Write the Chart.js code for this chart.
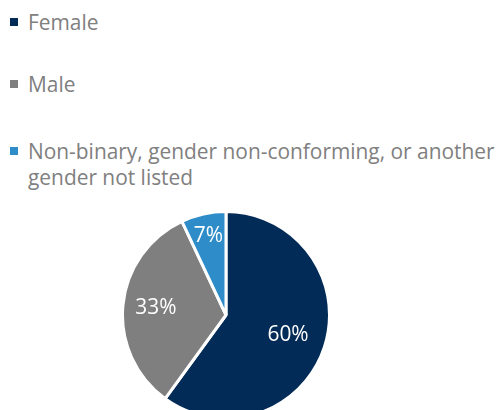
<!DOCTYPE html>
<html>
<head>
<meta charset="utf-8">
<script src="https://cdn.jsdelivr.net/npm/chart.js@4/dist/chart.umd.min.js"></script>
<style>
  html, body { margin: 0; padding: 0; background: #fff; }
  body { width: 497px; height: 410px; overflow: hidden; position: relative; font-family: "Open Sans", sans-serif; }
  .legend { position: absolute; left: 10px; top: 0; width: 487px; color: #808080; font-size: 20.9px; line-height: 26px; }
  .legend .item { position: absolute; left: 0; padding-left: 18px; width: 469px; white-space: normal; }
  .legend .sw { position: absolute; left: 0; top: 9px; width: 8px; height: 8px; }
  .pie-box { position: absolute; left: 120px; top: 209px; width: 212px; height: 212px; }
</style>
</head>
<body>
<div class="legend" id="legend"></div>
<div class="pie-box"><canvas id="genderPie"></canvas></div>
<script>
const categories = ['Female', 'Male', 'Non-binary, gender non-conforming, or another gender not listed'];
const shares = [60, 33, 7];
const colors = ['#022b57', '#7f7f7f', '#2e8dc8'];

// legend rows (top offsets in px)
const legendTops = [9, 71, 138];
const legend = document.getElementById('legend');
categories.forEach((name, i) => {
    const row = document.createElement('div');
    row.className = 'item';
    row.style.top = legendTops[i] + 'px';
    row.innerHTML = `<span class="sw" style="background:${colors[i]}"></span>${name}`;
    legend.appendChild(row);
});

// label radius as fraction of the outer radius, per slice
const labelRadius = [0.63, 0.68, 0.78];

const pieLabels = {
    id: 'pieLabels',
    afterDatasetsDraw(chart) {
        const { ctx } = chart;
        const meta = chart.getDatasetMeta(0);
        ctx.save();
        ctx.fillStyle = '#ffffff';
        ctx.font = '20.9px "Open Sans", sans-serif';
        ctx.textAlign = 'center';
        ctx.textBaseline = 'middle';
        meta.data.forEach((arc, i) => {
            const mid = (arc.startAngle + arc.endAngle) / 2;
            const r = arc.outerRadius * labelRadius[i];
            ctx.fillText(shares[i] + '%', arc.x + Math.cos(mid) * r, arc.y + Math.sin(mid) * r);
        });
        ctx.restore();
    }
};

new Chart(document.getElementById('genderPie'), {
    type: 'pie',
    data: {
        labels: categories,
        datasets: [{
            data: shares,
            backgroundColor: colors,
            borderColor: '#ffffff',
            borderWidth: 3,
            hoverOffset: 0
        }]
    },
    options: {
        responsive: true,
        maintainAspectRatio: false,
        animation: false,
        layout: { padding: 1 },
        plugins: {
            legend: { display: false },
            tooltip: { enabled: false }
        }
    },
    plugins: [pieLabels]
});
</script>
</body>
</html>
